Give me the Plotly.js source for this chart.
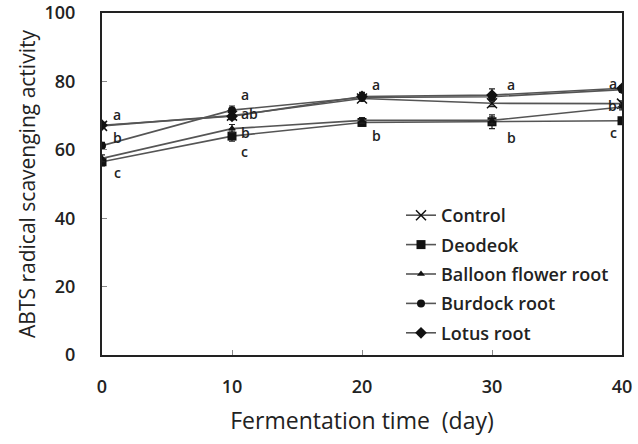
<!DOCTYPE html>
<html>
<head>
<meta charset="utf-8">
<script src="https://cdn.plot.ly/plotly-3.0.1.min.js"></script>
<style>html,body{margin:0;padding:0;background:#fff;}#chart{width:638px;height:444px;}</style>
</head>
<body>
<div id="chart"></div>
<script>
var days = [0, 10, 20, 30, 40];
var control = [67.0, 70.0, 75.0, 73.6, 73.5];
var deodeok = [56.5, 64.0, 68.0, 68.2, 68.5];
var balloon = [57.5, 66.2, 68.6, 68.6, 72.5];
var burdock = [61.2, 71.6, 75.3, 75.5, 77.6];
var lotus = [67.2, 69.8, 75.6, 76.0, 78.0];
var errDeodeok = [1.2, 1.5, 1.0, 2.0, 0.8];
var errBalloon = [1.0, 1.2, 0.8, 1.0, 0.8];
var errBurdock = [1.0, 1.2, 1.0, 1.0, 0.8];
var errLotus = [0.8, 1.0, 1.2, 1.8, 0.8];
var errControl = [0.6, 0.8, 0.8, 1.0, 0.8];

var letterText = ["a","b","c","a","ab","b","c","a","b","a","b","a","b","c"];
var letterX =    [0.7,0.7,0.8,10.5,10.5,10.5,10.5,20.6,20.6,31.0,31.0,39.8,39.8,39.8];
var letterY =    [70.2,63.7,53.5,76.2,70.6,65.0,59.4,79.0,64.3,79.0,63.7,79.5,73.1,65.2];
var letterAnchor = ["left","left","left","left","left","left","left","left","left","left","left","right","right","right"];

var names = ["Control","Deodeok","Balloon flower root","Burdock root","Lotus root"];
var series = [control, deodeok, balloon, burdock, lotus];
var errs = [errControl, errDeodeok, errBalloon, errBurdock, errLotus];
var symbols = ["x-thin-open","square","triangle-up","circle","diamond"];
var sizes = [10, 9, 7, 8, 9];

var traces = series.map(function(s, i){
  return {
    x: days, y: s, name: names[i], type: 'scatter', mode: 'lines+markers',
    legendgroup: 'g'+i,
    line: {color: '#555', width: 1.6},
    marker: {symbol: symbols[i], size: sizes[i], color: '#111', line: {color: '#111', width: i===0 ? 1.5 : 0}},
    error_y: {type: 'data', array: errs[i], visible: true, color: '#222', thickness: 1.2, width: 3}
  };
});

var annotations = letterText.map(function(t, i){
  return {x: letterX[i], y: letterY[i], xref: 'x', yref: 'y', text: t, showarrow: false,
    xanchor: letterAnchor[i], yanchor: 'middle', font: {family: 'Open Sans, sans-serif', size: 14, color: '#222', weight: 600}};
});

var layout = {
  width: 638, height: 444,
  margin: {l: 102, r: 16, t: 13, b: 89},
  paper_bgcolor: '#fff', plot_bgcolor: '#fff',
  showlegend: true,
  legend: {x: 0.575, y: 0.462, xanchor: 'left', yanchor: 'top', bgcolor: 'rgba(0,0,0,0)',
    font: {family: 'Open Sans, sans-serif', size: 18, color: '#222', weight: 600},
    tracegroupgap: 3, itemwidth: 30},
  xaxis: {range: [0, 40], tickvals: [0,10,20,30,40], ticks: 'inside', ticklen: 5, tickcolor: '#888',
    showline: true, linecolor: '#222', linewidth: 2, mirror: true, showgrid: false, zeroline: false,
    tickfont: {family: 'Open Sans, sans-serif', size: 18, color: '#222', weight: 600}, ticklabelstandoff: 14,
    title: {text: 'Fermentation time  (day)', font: {family: 'Open Sans, sans-serif', size: 23, color: '#222', weight: 500}, standoff: 16}},
  yaxis: {range: [0, 100], tickvals: [0,20,40,60,80,100], ticks: 'inside', ticklen: 5, tickcolor: '#888',
    showline: true, linecolor: '#222', linewidth: 2, mirror: true, showgrid: false, zeroline: false,
    tickfont: {family: 'Open Sans, sans-serif', size: 18, color: '#222', weight: 600}, ticklabelstandoff: 21,
    title: {text: 'ABTS radical scavenging activity', font: {family: 'Open Sans, sans-serif', size: 21, color: '#222', weight: 500}, standoff: 3}},
  annotations: annotations
};

Plotly.newPlot('chart', traces, layout, {staticPlot: true, displayModeBar: false});
</script>
</body>
</html>
